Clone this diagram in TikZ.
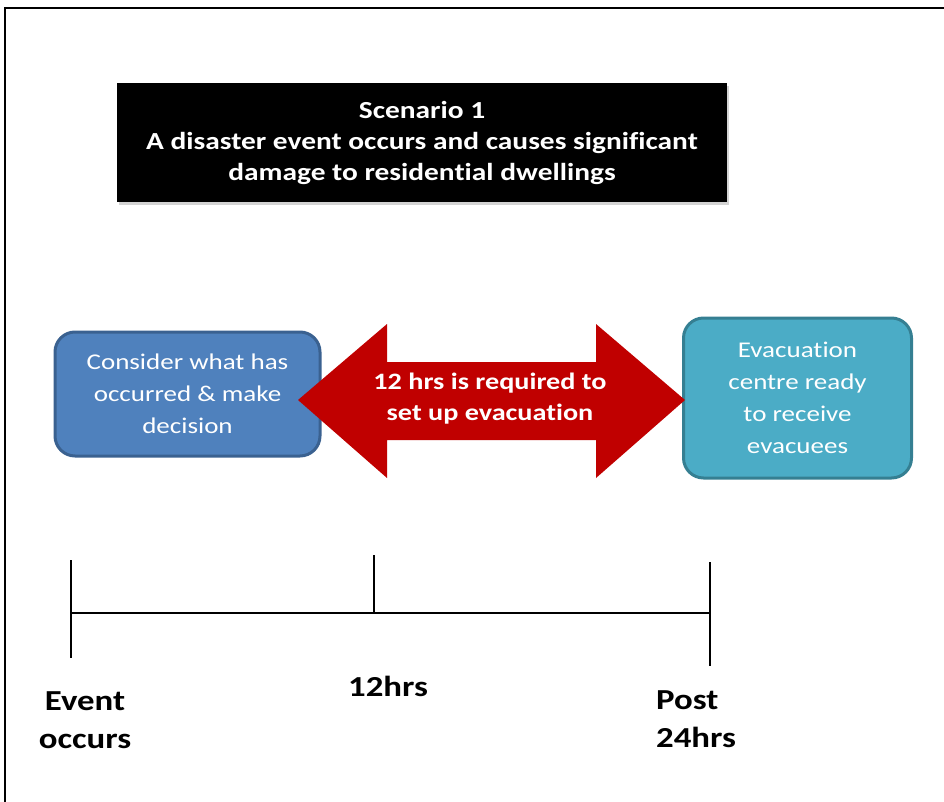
\documentclass[tikz,border=0pt]{standalone}
\usepackage{fontspec}
\setmainfont[FakeStretch=1.2, Ligatures=NoCommon]{Carlito}
\usetikzlibrary{shadows}
\definecolor{boxblue}{HTML}{4F81BD}
\definecolor{boxblueedge}{HTML}{3A6190}
\definecolor{boxteal}{HTML}{4BACC6}
\definecolor{boxtealedge}{HTML}{357F92}
\definecolor{arrowred}{HTML}{C00000}
\tikzset{
  stagebox/.style={rounded corners=20pt, line width=3pt, text=white,
    align=center, inner sep=0pt,
    font=\fontsize{22.5}{32}\selectfont},
  titlebox/.style={fill=black, text=white, align=center, inner sep=0pt,
    font=\bfseries\fontsize{24.5}{31}\selectfont,
    drop shadow={shadow xshift=2pt, shadow yshift=-3pt, opacity=0.35, fill=gray}},
  tick/.style={line width=1.4pt, black},
  axislabel/.style={font=\bfseries\fontsize{29}{38}\selectfont, inner sep=0pt},
}
\begin{document}
\begin{tikzpicture}[x=1pt, y=-1pt]
  \useasboundingbox (0,0) rectangle (944,802);
  % page frame
  \draw[line width=2pt] (5,830) -- (5,8) -- (960,8);

  % scenario heading
  \node[titlebox, minimum width=610pt, minimum height=119pt] (title) at (422,142.5)
    {Scenario 1\\A disaster event occurs and causes significant\\damage to residential dwellings};

  % stage boxes
  \node[stagebox, fill=boxblue, draw=boxblueedge, minimum width=265pt, minimum height=124pt]
    (decide) at (187.5,394) {Consider what has\\occurred \& make\\decision};
  \node[stagebox, fill=boxteal, draw=boxtealedge, minimum width=228pt, minimum height=160pt]
    (ready) at (797.5,398) {Evacuation\\centre ready\\to receive\\evacuees};

  % double arrow between the stages
  \coordinate (tipL) at (298,400);
  \coordinate (tipR) at (685,400);
  \fill[arrowred] (tipL) -- (387,324) -- (387,362) -- (596,362) -- (596,324)
    -- (tipR) -- (596,478) -- (596,440) -- (387,440) -- (387,478) -- cycle;
  \node[text=white, align=center, font=\bfseries\fontsize{23.5}{31}\selectfont]
    (gap) at (490,399) {12 hrs is required to\\set up evacuation};

  % timeline
  \coordinate (t0top) at (71,560);
  \coordinate (t0bot) at (71,658);
  \coordinate (t1top) at (374,555);
  \coordinate (t1bot) at (374,612);
  \coordinate (t2top) at (710,562);
  \coordinate (t2bot) at (710,666);
  \coordinate (axL) at (71,613);
  \coordinate (axR) at (710,613);
  \draw[tick] (axL) -- (axR);
  \draw[tick] (t0top) -- (t0bot);
  \draw[tick] (t1top) -- (t1bot);
  \draw[tick] (t2top) -- (t2bot);

  \node[axislabel, align=center] (lab0) at (85,720) {Event\\occurs};
  \node[axislabel] (lab1) at (388,686) {12hrs};
  \node[axislabel, align=left, anchor=west] (lab2) at (656,719) {Post\\24hrs};
\end{tikzpicture}
\end{document}
